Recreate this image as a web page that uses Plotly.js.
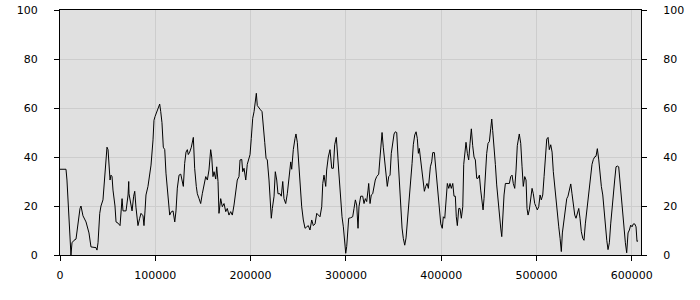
<!DOCTYPE html>
<html>
<head>
<meta charset="utf-8">
<script src="https://cdn.plot.ly/plotly-3.0.1.min.js"></script>
<style>html,body{margin:0;padding:0;background:#fff;}#chart{width:700px;height:300px;}</style>
</head>
<body>
<div id="chart"></div>
<script>
// Series values
const xValues = [
0,6300,7300,9400,10500,11500,12600,14700,16800,18900,21000,22000,24100,27300,29400,30400,32500,37800,38800,39900,
41700,43000,45100,46200,48300,49300,50400,51400,52500,53500,54600,55600,57700,58800,60900,63000,64000,65100,66100,68200,
69300,71400,72100,72400,74200,75600,77300,78400,79700,81800,83600,85000,87100,88100,89200,90200,92300,94100,95500,97600,
98600,99700,101500,102800,104600,105700,107000,108400,109900,111200,113300,115100,116500,118600,120400,121700,123100,124900,126700,128300,
129400,130800,132200,133600,134600,136100,137800,139900,141300,143000,144100,145900,147600,149300,151100,152900,154600,156300,158100,159200,
160500,161600,163400,164400,165800,166800,168600,170300,172100,173900,175500,177300,179100,180800,182600,184400,186000,187800,188900,190700,
191700,193100,194900,196500,198300,199400,200700,202200,203600,204900,206000,207000,208500,209900,212000,213300,214800,216200,217500,219300,
220400,221100,221700,222800,224600,225900,227400,228700,230800,232200,233700,235000,236800,238500,240300,242100,243100,244800,246600,247600,
249000,250500,251800,253600,255300,257100,258900,260500,262300,264100,265800,267600,269400,271000,272800,274600,275700,277000,278800,279800,
281500,283300,285100,286800,288200,289900,291400,293100,294500,295900,297300,298700,299800,300800,301900,302900,305000,307100,308500,309900,
311300,312700,313700,315500,317600,319000,320400,321800,323200,323900,325300,326600,328100,329500,330800,332300,334400,335800,336800,337900,
339200,340700,342100,343400,344900,346300,347600,349100,350500,351800,353300,354700,356000,357500,358900,360200,361700,363100,364800,366500,
368000,369400,370700,372200,373600,374900,376000,377000,378500,379500,380900,382300,383700,385100,386500,387500,388600,390000,391100,392800,
394200,395600,397000,398000,399500,401100,402200,403700,405000,406400,407900,409200,410600,412100,413400,414800,415800,416900,418400,419700,
421100,422600,423600,425000,426000,427400,428800,430200,431600,433000,434400,435800,437200,438600,440000,441400,442800,443900,444900,446300,
447700,449100,450500,451900,453000,454000,455400,456800,458200,459600,461000,462400,463500,464500,465900,467300,469400,471500,472900,474300,
475600,477100,478500,479800,481900,483400,484800,486100,487600,489000,490000,491100,492400,493900,495300,496600,498100,499500,500800,502300,
503700,505000,506500,507900,509200,510700,512100,513400,514900,516300,517600,519100,520500,521800,523300,524700,526000,527100,528500,530200,
531700,533000,534400,535900,537200,538600,540100,541400,542800,544300,545600,547000,548500,549800,551200,552700,554000,555400,556900,558200,
559600,561100,562400,563800,565300,566600,568000,569500,570800,572200,573700,575000,576400,577800,579200,580600,582000,583400,584800,586200,
587600,589000,590400,591800,593200,594600,596000,597400,598800,600200,601600,603000,604400,605400,606500
];
const yValues = [
35,35,30.6,14,5,0,5,6,6.5,14,19,20,16,13.5,9.5,9,3.3,3,2,5,
17,20,22.5,29,41.5,44,43,35,30.6,32.6,32,26.5,20,13.5,13,12,19.6,23,18,18,
18,24.5,30,25,21,18,24,26,19.5,12,15,17,16,12,18,24.5,28,32,36.7,47,
55,56.5,58.5,60,61.6,58.5,54,44,43,33.4,24,16.3,17.5,18,13.5,18,27.3,32.6,33,30,
28,37.4,42,43,41,42,44,48,35.4,28,25,23,21,25,28,32,30.6,34.7,43,40,
32,34,31,36,30,17,23,19.7,21,17.7,19,16.3,17.7,16.3,20.4,25,30.6,32,38.8,39,
34,35.4,30.6,37,39,41,47.6,55.8,58.5,62,66,61,60,59.5,58.5,53.7,46,39.5,38.8,30.6,
24,18.4,15,19,24,34,30.6,25,25,24,30,23,21,25,30.6,38,35,43,47.6,49.4,
46,36,28,19.7,14.3,10.9,11.5,12,10.2,14.3,12,12.7,17,16.3,15.6,19.7,29.2,32.6,28,34.7,
40,43,35.4,35.4,45,48,39.5,34,22.5,15.6,11.5,3.4,0.7,3.4,9.5,15,15.2,15.6,19,22.5,
20.4,10.9,19.7,24,24,21,23,21.8,26.5,29.2,21,24.5,25,28,30.6,32,33,40,46,50,
44,37,31,28,32,32.6,41.5,46,49.4,50.3,50,39.5,30.6,19,11,6.8,4,7,14.3,21.8,
30.6,37.4,45,49,50.3,47.6,41.5,43.5,38,36,30.6,26,28,29.2,27.2,30.6,36,38,41.8,41.8,
35.4,30.6,24,17,12.7,10.9,15.6,15,22.5,29.2,27.2,29.2,27.2,29.2,24,24,15.6,12,19,19,
15,19.7,37,42,46,41.5,38.8,45.6,51.5,44.6,40,38.8,31.3,31.3,32.6,26.5,21,18.4,23,33.3,
41.5,45.6,46.3,51.5,55.5,50.8,44.6,37,28.6,21.8,16.3,11,7.5,17,24.5,29.2,29.2,29.2,32,32.6,
29.2,27.2,34.7,44.6,49.4,45.6,36,28,32,30.6,19,16.3,18.4,22.5,27.2,25,21,19.7,18.4,19.7,
24.5,22.5,24.5,32,39.5,47.3,48,43,45,42,34,27.2,23,17,11.5,6.8,1.4,9,12.7,19,
23,24,26.5,29,25,20.4,16.3,15,17,19,15,9.5,6.8,6,12.7,18.4,24,29.2,34,37,
39,40.1,40.3,43.4,38.8,32.6,28,24.5,17.7,11,6,2.2,5,12.7,19.7,25.8,30.6,36,36.3,36,
29.2,22.5,17,10.2,5,0.9,9,10.2,12.2,11.5,12.7,12.7,11.5,5.5,5.9
];
const xTickValues = [0, 100000, 200000, 300000, 400000, 500000, 600000];
const xTickLabels = ['0', '100000', '200000', '300000', '400000', '500000', '600000'];
const yTickValues = [0, 20, 40, 60, 80, 100];
const yTickLabels = ['0', '20', '40', '60', '80', '100'];

const font = {family: 'DejaVu Sans, sans-serif', size: 11, color: '#000'};
const gridColor = '#cdcdcd';

const traces = [
  {x: xValues, y: yValues, type: 'scatter', mode: 'lines',
   line: {color: '#000', width: 1}, hoverinfo: 'skip', showlegend: false},
  {x: [xValues[0]], y: [yValues[0]], type: 'scatter', mode: 'lines', yaxis: 'y2',
   line: {color: 'rgba(0,0,0,0)', width: 0}, hoverinfo: 'skip', showlegend: false}
];

const layout = {
  width: 700, height: 300,
  margin: {l: 60, r: 59, t: 10, b: 45, pad: 0},
  paper_bgcolor: '#ffffff',
  plot_bgcolor: '#e0e0e0',
  font: font,
  showlegend: false,
  xaxis: {
    range: [0, 609600], tickmode: 'array', tickvals: xTickValues, ticktext: xTickLabels,
    showgrid: true, gridcolor: gridColor, gridwidth: 1, zeroline: false,
    showline: true, linecolor: '#000', linewidth: 1, mirror: true,
    ticks: 'outside', ticklen: 5, tickcolor: '#000', ticklabelstandoff: 5,
    tickfont: font
  },
  yaxis: {
    range: [0, 100], tickmode: 'array', tickvals: yTickValues, ticktext: yTickLabels,
    showgrid: true, gridcolor: gridColor, gridwidth: 1, zeroline: false,
    showline: true, linecolor: '#000', linewidth: 1, mirror: true,
    ticks: 'outside', ticklen: 5, tickcolor: '#000', ticklabelstandoff: 14,
    tickfont: font
  },
  yaxis2: {
    overlaying: 'y', side: 'right', anchor: 'x',
    range: [0, 100], tickmode: 'array', tickvals: yTickValues, ticktext: yTickLabels,
    showgrid: false, zeroline: false, showline: true, linecolor: '#000', linewidth: 1,
    ticks: 'outside', ticklen: 5, tickcolor: '#000', ticklabelstandoff: 14,
    tickfont: font
  }
};

Plotly.newPlot('chart', traces, layout, {staticPlot: true, displayModeBar: false});
</script>
</body>
</html>
